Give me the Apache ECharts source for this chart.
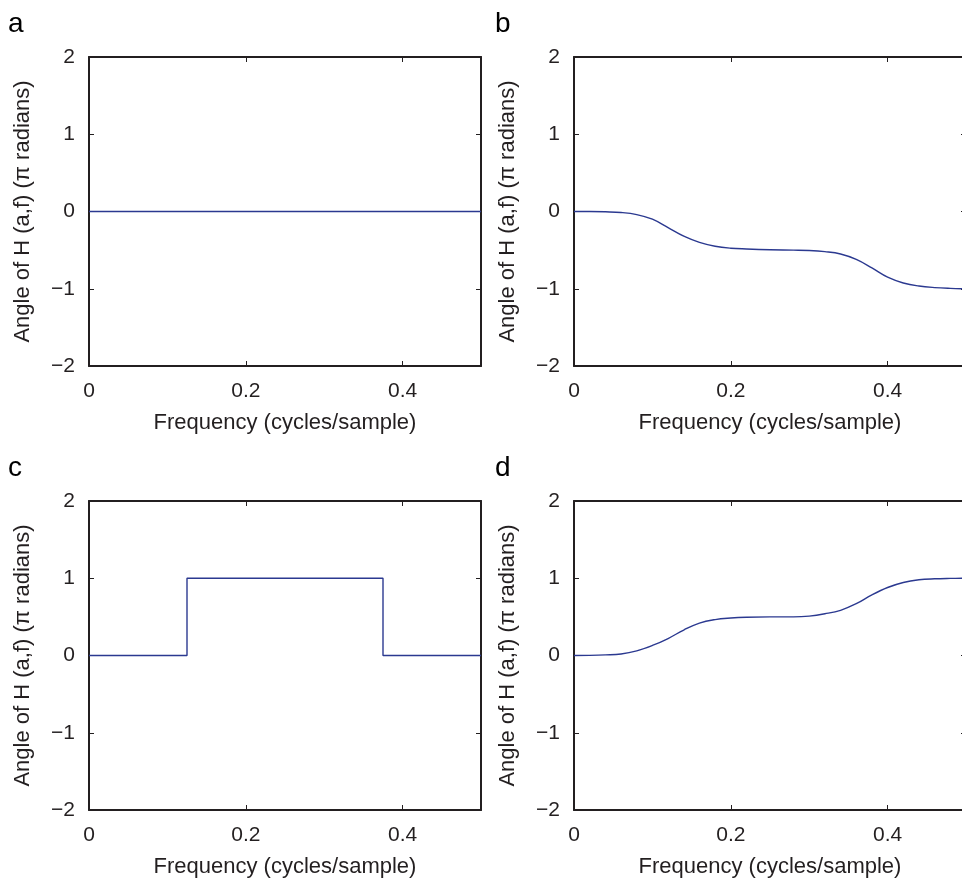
<!DOCTYPE html>
<html>
<head>
<meta charset="utf-8">
<script src="https://cdn.jsdelivr.net/npm/echarts@6/dist/echarts.min.js"></script>
<style>html,body{margin:0;padding:0;background:#fff}#chart{width:962px;height:886px}</style>
</head>
<body>
<div id="chart"></div>
<script>
// Panel a: flat zero phase
var freqA = [0, 0.5];
var phaseA = [0, 0];
// Panel b: decreasing phase
var freqB = [0,0.02,0.04,0.06,0.08,0.10,0.12,0.14,0.16,0.18,0.20,0.22,0.25,0.28,0.30,0.32,0.34,0.36,0.38,0.40,0.42,0.44,0.46,0.48,0.50];
var phaseB = [0,0,-0.004,-0.013,-0.04,-0.10,-0.21,-0.32,-0.40,-0.45,-0.475,-0.485,-0.495,-0.50,-0.505,-0.52,-0.55,-0.62,-0.73,-0.85,-0.925,-0.965,-0.985,-0.995,-1.0];
// Panel c: step phase
var freqC = [0, 0.125, 0.125, 0.375, 0.375, 0.5];
var phaseC = [0, 0, 1, 1, 0, 0];
// Panel d: increasing phase
var freqD = [0,0.02,0.04,0.06,0.08,0.10,0.12,0.14,0.16,0.18,0.20,0.22,0.25,0.28,0.30,0.32,0.34,0.36,0.38,0.40,0.42,0.44,0.46,0.48,0.50];
var phaseD = [0,0.002,0.008,0.02,0.06,0.13,0.22,0.33,0.42,0.465,0.485,0.495,0.50,0.50,0.51,0.54,0.585,0.67,0.785,0.88,0.945,0.98,0.993,0.998,1.0];

var panelLetters = ['a', 'b', 'c', 'd'];
var xTitle = 'Frequency (cycles/sample)';
var yTitle = 'Angle of H (a,f) (\u03c0 radians)';

var FONT = "'Liberation Sans', Arial, Helvetica, sans-serif";
var AX = '#231f20';
var LINE = '#2b3990';

var panels = [
  {x: freqA, y: phaseA, left: 89, top: 57, smooth: false},
  {x: freqB, y: phaseB, left: 574, top: 57, smooth: true},
  {x: freqC, y: phaseC, left: 89, top: 501, smooth: false},
  {x: freqD, y: phaseD, left: 574, top: 501, smooth: true}
];
var letterPos = [[8, 10], [495, 10], [8, 454], [495, 454]];

function pair(xs, ys) { return xs.map(function (v, i) { return [v, ys[i]]; }); }
function minusFmt(v) { return v < 0 ? '\u2212' + Math.abs(v) : String(v); }

var grids = [], xAxes = [], yAxes = [], series = [], graphics = [];
panels.forEach(function (p, i) {
  grids.push({left: p.left, top: p.top, width: 392, height: 309, containLabel: false, outerBoundsMode: 'none'});
  var common = {
    gridIndex: i, type: 'value', min: 0, max: 0.5, interval: 0.2,
    axisLine: {show: true, onZero: false, lineStyle: {color: AX, width: 2}},
    axisTick: {show: true, inside: true, length: 5, lineStyle: {color: AX, width: 1}},
    splitLine: {show: false}
  };
  xAxes.push(Object.assign({}, common, {
    position: 'bottom',
    name: xTitle, nameLocation: 'middle', nameGap: 46,
    nameTextStyle: {fontFamily: FONT, fontSize: 22, color: '#231f20'},
    axisLabel: {show: true, margin: 15, fontFamily: FONT, fontSize: 21, color: '#231f20',
      formatter: function (v) { return Math.abs(v - 0.5) < 1e-9 ? '' : String(v); }}
  }));
  xAxes.push(Object.assign({}, common, {position: 'top', axisLabel: {show: false}}));
  var ycommon = {
    gridIndex: i, type: 'value', min: -2, max: 2, interval: 1,
    axisLine: {show: true, onZero: false, lineStyle: {color: AX, width: 2}},
    axisTick: {show: true, inside: true, length: 5, lineStyle: {color: AX, width: 1}},
    splitLine: {show: false}
  };
  yAxes.push(Object.assign({}, ycommon, {
    position: 'left',
    name: yTitle, nameLocation: 'middle', nameGap: 55,
    nameTextStyle: {fontFamily: FONT, fontSize: 22, color: '#231f20'},
    axisLabel: {show: true, margin: 14, fontFamily: FONT, fontSize: 21, color: '#231f20', formatter: minusFmt}
  }));
  yAxes.push(Object.assign({}, ycommon, {position: 'right', axisLabel: {show: false}}));
  series.push({
    type: 'line', xAxisIndex: 2 * i, yAxisIndex: 2 * i,
    data: pair(p.x, p.y), showSymbol: false, smooth: p.smooth ? 0.4 : false,
    lineStyle: {color: LINE, width: 1.4}, animation: false, silent: true
  });
  graphics.push({
    type: 'text', left: letterPos[i][0], top: letterPos[i][1],
    style: {text: panelLetters[i], font: '28px ' + FONT, fill: '#000'}
  });
});

var chart = echarts.init(document.getElementById('chart'), null, {renderer: 'canvas'});
chart.setOption({
  animation: false,
  backgroundColor: '#fff',
  grid: grids, xAxis: xAxes, yAxis: yAxes, series: series, graphic: graphics
});
</script>
</body>
</html>
